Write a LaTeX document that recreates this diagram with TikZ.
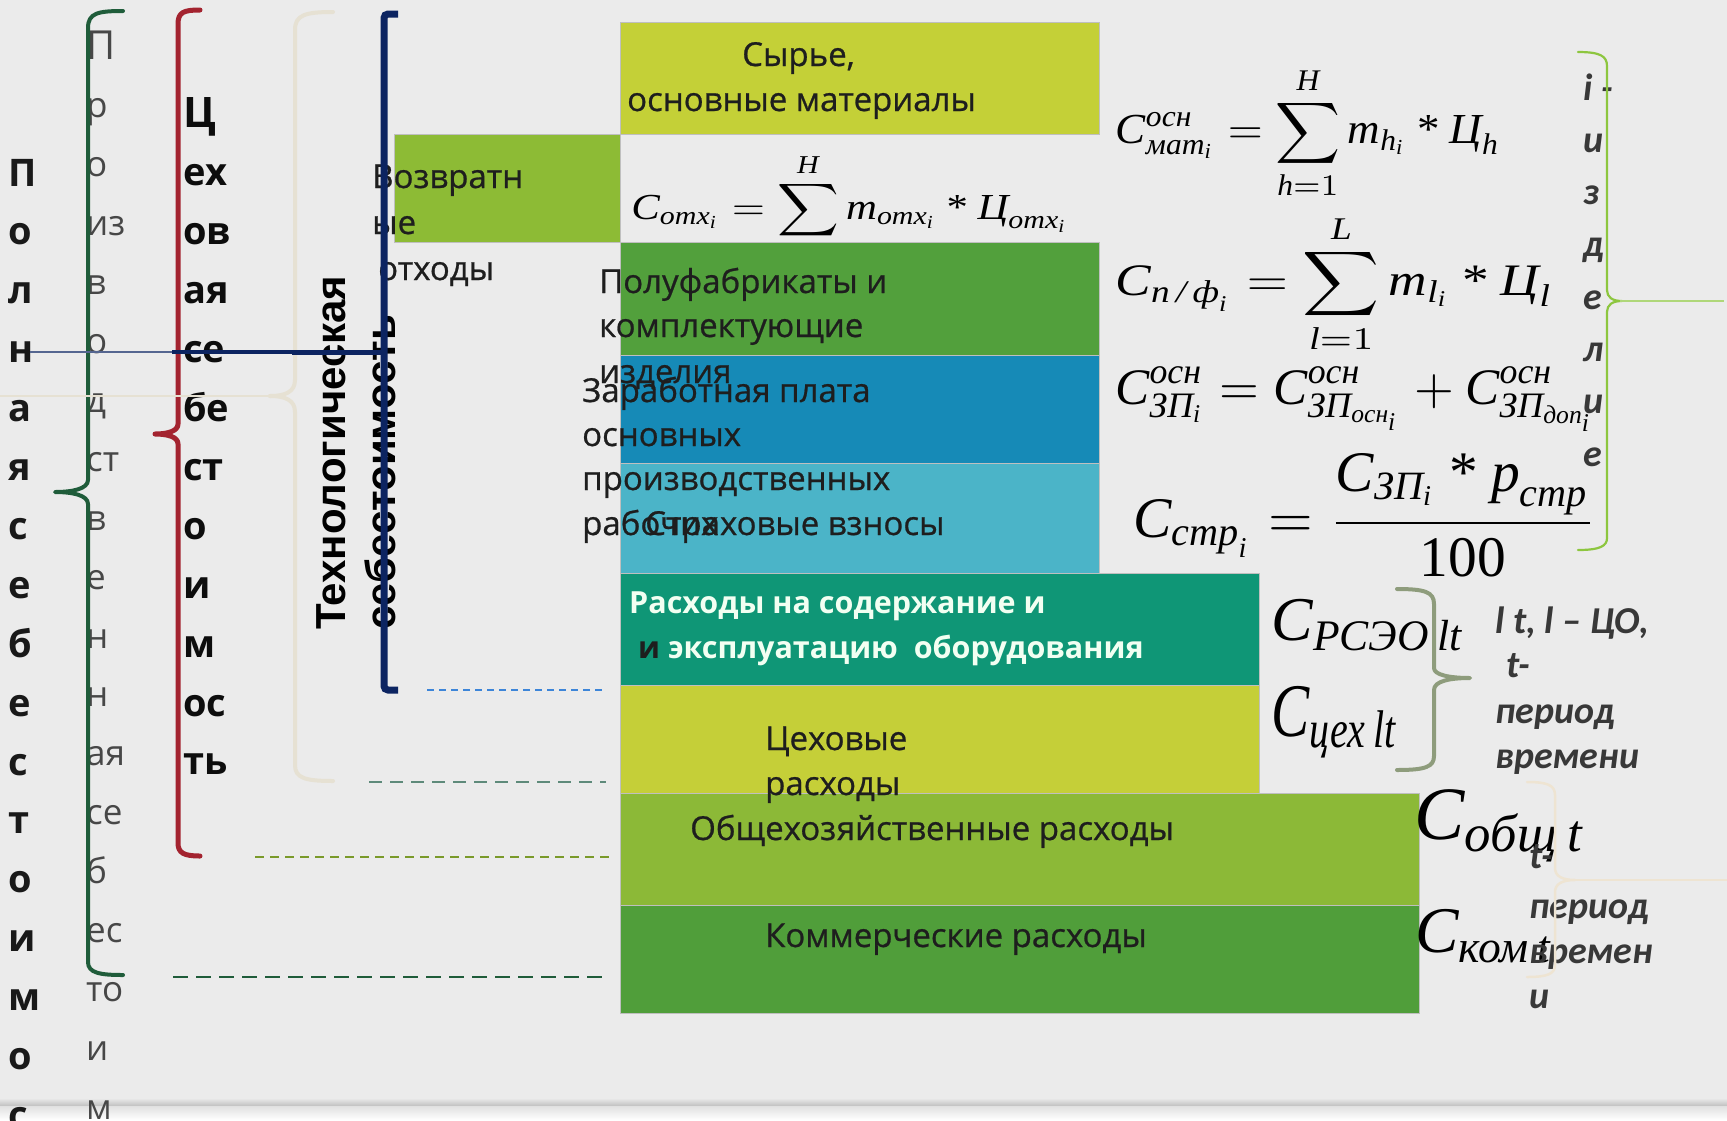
\documentclass[tikz,border=0pt]{standalone}
\usepackage{fontspec}
\usepackage{amsmath}
\usepackage{graphicx}
\newfontfamily\osans{Open Sans}
\newfontfamily\osansm{Open Sans}[FakeBold=0.7]
\newfontfamily\lsans{Liberation Sans}
\newfontfamily\fmath{Liberation Serif}
\newfontfamily\carl{Carlito}
\newcommand{\mti}[1]{\text{\fmath\itshape #1}}
\newcommand{\mast}{\mathbin{\text{\fmath *}}}
\newcommand{\fsz}[1]{\fontsize{#1}{#1}\selectfont}
\definecolor{bg}{HTML}{EBEBEB}
\definecolor{txt}{HTML}{1E1E1E}
\definecolor{cSyr}{HTML}{C4D037}
\definecolor{cVoz}{HTML}{8DBB35}
\definecolor{cPol}{HTML}{52A03C}
\definecolor{cZp}{HTML}{168AB7}
\definecolor{cStr}{HTML}{4BB4C8}
\definecolor{cRseo}{HTML}{0F9676}
\definecolor{cTseh}{HTML}{C5CF38}
\definecolor{cObsh}{HTML}{8CB937}
\definecolor{cKom}{HTML}{509E3A}
\definecolor{brG}{HTML}{1F5C3A}
\definecolor{brR}{HTML}{A3232F}
\definecolor{brB}{HTML}{E6E1D3}
\definecolor{brN}{HTML}{0C2461}
\definecolor{brLG}{HTML}{8DC63F}
\definecolor{brO}{HTML}{8E9C7C}
\definecolor{brP}{HTML}{EEE4D2}
\definecolor{dBlue}{HTML}{3D85D8}
\definecolor{dGray}{HTML}{5E8A7A}
\definecolor{dOlive}{HTML}{7A9A2A}
\tikzset{
  box/.style={draw=black!25, line width=1pt, anchor=north west, inner sep=0pt, outer sep=0pt},
  bt/.style={anchor=base west, inner sep=0pt, font=\osansm\fsz{33}, text=txt},
  btw/.style={anchor=base west, inner sep=0pt, font=\osans\bfseries\fsz{30.5}, text=white!95!green},
  colA/.style={anchor=base west, inner sep=0pt, font=\osans\bfseries\fsz{38}, text=black!90},
  colB/.style={anchor=base west, inner sep=0pt, font=\osans\fsz{35}, text=black!72},
  colC/.style={anchor=base west, inner sep=0pt, font=\osans\bfseries\fsz{38}, text=black!95},
  fm/.style={inner sep=0pt, text=black},
  rl/.style={anchor=base west, inner sep=0pt, font=\carl\bfseries\itshape\fsz{38}, text=black!78},
  brk/.style={line cap=round, line join=round}
}
\begin{document}
\begin{tikzpicture}[x=1pt,y=-1pt]
\useasboundingbox (0,0) rectangle (1727,1120);
\fill[bg] (0,0) rectangle (1727,1120);
\shade[top color=bg, bottom color=black!25] (0,1098) rectangle (1727,1106);
\shade[top color=black!12, bottom color=white] (0,1106) rectangle (1727,1120);

% formula hidden partly by box below
\node[fm] (f1) at (850,210) {\resizebox*{437pt}{114pt}{$\displaystyle \mti{C}_{\mti{отх}_{\mti{i}}} = \sum_{\mti{h}=1}^{\mti{H}} \mti{m}_{\mti{отх}_{\mti{i}}} \mast \mti{Ц}_{\mti{отх}_{\mti{i}}}$}};

% boxes
\node[box, fill=cVoz, minimum width=226pt, minimum height=108pt] (voz) at (394,134) {};
\node[box, fill=cSyr, minimum width=479pt, minimum height=112pt] (syr) at (620,22) {};
\node[box, fill=cPol, minimum width=479pt, minimum height=113pt] (pol) at (620,242) {};
\node[box, fill=cZp, minimum width=479pt, minimum height=108pt] (zp) at (620,355) {};
\node[box, fill=cStr, minimum width=479pt, minimum height=110pt] (str) at (620,463) {};
\node[box, fill=cRseo, minimum width=639pt, minimum height=112pt] (rseo) at (620,573) {};
\node[box, fill=cTseh, minimum width=639pt, minimum height=108pt] (tseh) at (620,685) {};
\node[box, fill=cObsh, minimum width=799pt, minimum height=112pt] (obsh) at (620,793) {};
\node[box, fill=cKom, minimum width=799pt, minimum height=108pt] (kom) at (620,905) {};

% box texts
\node[bt] (tSyr1) at (742,66) {Сырье,};
\node[bt] (tSyr2) at (627,111) {основные материалы};
\node[bt] (tVoz1) at (372,188) {Возвратн};
\node[bt] (tVoz2) at (372,234) {ые};
\node[bt] (tVoz3) at (378,280) {отходы};
\node[bt] (tPol1) at (599,293) {Полуфабрикаты и};
\node[bt] (tPol2) at (599,337) {комплектующие};
\node[bt] (tPol3) at (599,383) {изделия};
\node[bt] (tZp1) at (582,402) {Заработная плата};
\node[bt] (tZp2) at (582,446) {основных};
\node[bt] (tZp3) at (582,490) {производственных};
\node[bt] (tZp4) at (582,535) {рабочих};
\node[bt] (tStr) at (645,535) {Страховые взносы};
\node[btw] (tR1) at (629,613) {Расходы на содержание и};
\node[btw] (tR2) at (638,658) {\textcolor{txt}{и} эксплуатацию\ \ оборудования};
\node[bt] (tT1) at (765,750) {Цеховые};
\node[bt] (tT2) at (765,795) {расходы};
\node[bt] (tO) at (690,840) {Общехозяйственные расходы};
\node[bt] (tK) at (765,947) {Коммерческие расходы};

% formulas
\node[fm] (f2) at (1308,133) {\resizebox*{384pt}{133pt}{$\displaystyle \mti{C}^{\mti{осн}}_{\mti{мат}_{\mti{i}}} = \sum_{\mti{h}=1}^{\mti{H}} \mti{m}_{\mti{h}_{\mti{i}}} \mast \mti{Ц}_{\mti{h}}$}};
\node[fm] (f3) at (1334,284) {\resizebox*{437pt}{140pt}{$\displaystyle \mti{C}_{\mti{п\,/\,ф}_{\mti{i}}} = \sum_{\mti{l}=1}^{\mti{L}} \mti{m}_{\mti{l}_{\mti{i}}} \mast \mti{Ц}_{\mti{l}}$}};
\node[fm] (f4) at (1356,399) {\resizebox{481pt}{!}{$\displaystyle \mti{C}^{\mti{осн}}_{\mti{ЗП}_{\mti{i}}} = \mti{C}^{\mti{осн}}_{\mti{ЗП}_{\mti{осн}_{\mti{i}}}} + \mti{C}^{\mti{осн}}_{\mti{ЗП}_{\mti{доп}_{\mti{i}}}}$}};
\node[fm] (f5) at (1365,515) {\resizebox{463pt}{!}{$\displaystyle \mti{C}_{\mti{стр}_{\mti{i}}} = \frac{\mti{C}_{\mti{ЗП}_{\mti{i}}} \mast \mti{p}_{\mti{стр}}}{\text{\fmath 100}}$}};
\node[fm] (f6) at (1368,625) {\resizebox{193pt}{!}{$\mti{C}_{\mti{РСЭО}\,\mti{lt}}$}};
\node[fm] (f7) at (1335,722) {\resizebox*{127pt}{72pt}{$\mti{C}_{\mti{цех}\,\mti{lt}}$}};
\node[fm] (f8) at (1500,826) {\resizebox{171pt}{!}{$\mti{C}_{\mti{общ}\,\mti{t}}$}};
\node[fm] (f9) at (1484,936) {\resizebox{138pt}{!}{$\mti{C}_{\mti{ком}\,\mti{t}}$}};

% left columns
\foreach \t [count=\i from 0] in {П,о,л,н,а,я,с,е,б,е,с,т,о,и,м,о,с}
  \node[colA] (pA\i) at (8,{186+58.9*\i}) {\t};
\node[colB, font=\osans\fsz{40}] (pB0) at (86,59) {П};
\foreach \t [count=\i from 1] in {р,о,из,в,о,д,ст,в,е,н,н,ая,се,б,ес,то,и,м}
  \node[colB] (pB\i) at (86,{59+58.9*\i}) {\t};
\node[colC, font=\osans\bfseries\fsz{42}] (pC0) at (183,127) {Ц};
\foreach \t [count=\i from 1] in {ех,ов,ая,се,бе,ст,о,и,м,ос,ть}
  \node[colC] (pC\i) at (183,{127+58.9*\i}) {\t};

\node[rotate=90, anchor=west, align=left, inner sep=0pt, font=\lsans\bfseries\fontsize{42}{50}\selectfont] (tech) at (356,630) {Технологическая\\себестоимость};

% left brackets
\draw[brk, brG, line width=4pt] (123,11) .. controls (98,11) and (88,13) .. (88,28) -- (88,480)
  .. controls (88,489) and (72,492) .. (55,492) .. controls (72,492) and (88,495) .. (88,504)
  -- (88,962) .. controls (88,973) and (100,975) .. (123,975);
\draw[brk, brR, line width=5pt] (200,10) .. controls (184,10) and (178,12) .. (178,24) -- (178,424)
  .. controls (178,431) and (168,434) .. (155,434) .. controls (168,434) and (178,437) .. (178,444)
  -- (178,843) .. controls (178,853) and (184,856) .. (200,856);
\draw[brk, brB, line width=4pt] (333,12) .. controls (305,12) and (295,15) .. (295,30) -- (295,380)
  .. controls (295,392) and (285,396) .. (270,396);
\draw[brk, brB, line width=4pt] (270,396) .. controls (285,396) and (295,400) .. (295,412)
  -- (295,765) .. controls (295,778) and (305,781) .. (333,781);
\coordinate (bTipA) at (272,396);
\coordinate (bTipB) at (0,396);
\draw[brB, line width=2.5pt] (bTipA) -- (bTipB);
\draw[brN, line width=7pt, rounded corners=4pt] (398,14) -- (384,14) -- (384,690) -- (398,690);
\coordinate (nA) at (384,352);
\coordinate (nB) at (292,352);
\coordinate (nC) at (172,352);
\coordinate (nD) at (30,352);
\draw[brN, line width=5pt] (nA) -- (nB);
\draw[brN, line width=3.5pt] (nB) -- (nC);
\draw[brN!70, line width=1.8pt] (nC) -- (nD);

% dashed guide lines
\coordinate (d1a) at (427,690); \coordinate (d1b) at (606,690);
\coordinate (d2a) at (369,782); \coordinate (d2b) at (606,782);
\coordinate (d3a) at (255,857); \coordinate (d3b) at (609,857);
\coordinate (d4a) at (173,977); \coordinate (d4b) at (606,977);
\draw[dBlue, line width=1.5pt, dash pattern=on 7pt off 5pt] (d1a) -- (d1b);
\draw[dGray, line width=1.6pt, dash pattern=on 13pt off 8pt] (d2a) -- (d2b);
\draw[dOlive, line width=1.6pt, dash pattern=on 9pt off 6pt] (d3a) -- (d3b);
\draw[brG, line width=2pt, dash pattern=on 15pt off 8pt] (d4a) -- (d4b);

% right labels
\foreach \t [count=\i from 0] in {i -,и,з,д,е,л,и,е}
  \node[rl] (iz\i) at (1583,{100+52.3*\i}) {\t};
\node[rl] (lt1) at (1495,633) {l t, l – ЦО,};
\node[rl] (lt2) at (1506,677) {t-};
\node[rl] (lt3) at (1495,723) {период};
\node[rl] (lt4) at (1495,768) {времени};
\node[rl] (tt1) at (1529,868) {t-};
\node[rl] (tt2) at (1529,918) {период};
\node[rl] (tt3) at (1529,963) {времен};
\node[rl] (tt4) at (1529,1008) {и};

% right braces
\draw[brk, brLG, line width=2.2pt] (1578,52) .. controls (1600,52) and (1607,56) .. (1607,66) -- (1607,290)
  .. controls (1607,297) and (1612,301) .. (1622,301) .. controls (1612,301) and (1607,305) .. (1607,312)
  -- (1607,538) .. controls (1607,546) and (1600,550) .. (1578,550);
\coordinate (gTipA) at (1620,301);
\coordinate (gTipB) at (1724,301);
\draw[brLG!70, line width=1.3pt] (gTipA) -- (gTipB);
\draw[brk, brO, line width=4pt] (1397,589) .. controls (1425,589) and (1434,592) .. (1434,604) -- (1434,668)
  .. controls (1434,675) and (1450,678) .. (1470,678) .. controls (1450,678) and (1434,681) .. (1434,690)
  -- (1434,756) .. controls (1434,767) and (1425,770) .. (1397,770);
\draw[brk, brP, line width=2.5pt] (1527,782) .. controls (1547,782) and (1555,785) .. (1555,795) -- (1555,868)
  .. controls (1555,876) and (1562,880) .. (1575,880) .. controls (1562,880) and (1555,884) .. (1555,892)
  -- (1555,965) .. controls (1555,974) and (1547,977) .. (1527,977);
\coordinate (pTipA) at (1573,880);
\coordinate (pTipB) at (1727,880);
\draw[brP, line width=1.5pt] (pTipA) -- (pTipB);
\end{tikzpicture}
\end{document}
